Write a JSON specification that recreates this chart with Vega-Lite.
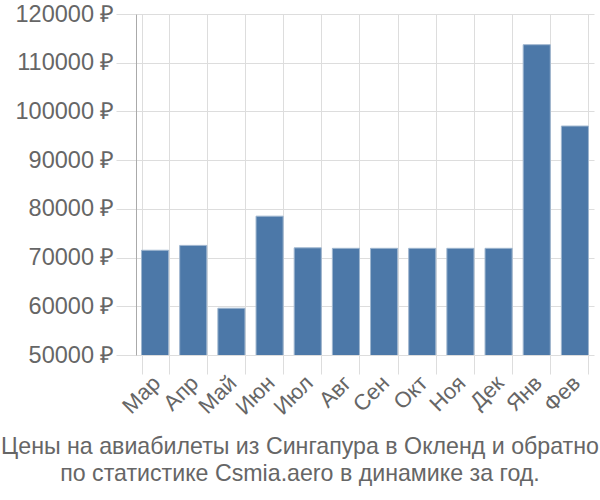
{
  "$schema": "https://vega.github.io/schema/vega-lite/v6.json",
  "width": 458,
  "height": 341,
  "autosize": {"type": "none"},
  "padding": {"left": 136, "top": 14, "right": 6, "bottom": 145},
  "background": "white",
  "data": {
    "values": [
      {"month": "Мар", "price": 71500},
      {"month": "Апр", "price": 72500},
      {"month": "Май", "price": 59600},
      {"month": "Июн", "price": 78500},
      {"month": "Июл", "price": 72000},
      {"month": "Авг", "price": 71900},
      {"month": "Сен", "price": 71900},
      {"month": "Окт", "price": 71900},
      {"month": "Ноя", "price": 71900},
      {"month": "Дек", "price": 71900},
      {"month": "Янв", "price": 113700},
      {"month": "Фев", "price": 97000}
    ]
  },
  "title": {
    "text": ["Цены на авиабилеты из Сингапура в Окленд и обратно", "по статистике Csmia.aero в динамике за год."],
    "orient": "bottom",
    "anchor": "middle",
    "frame": "group",
    "dx": -65,
    "font": "Liberation Sans",
    "fontSize": 23.2,
    "fontWeight": "normal",
    "color": "#666666",
    "lineHeight": 27,
    "offset": 18
  },
  "mark": {"type": "bar", "color": "#4c78a8", "stroke": "#9fb6cf", "strokeWidth": 1, "clip": true},
  "encoding": {
    "x": {
      "field": "month",
      "type": "nominal",
      "sort": null,
      "scale": {"paddingInner": 0.29, "paddingOuter": 0.145},
      "axis": {
        "title": null,
        "tickBand": "extent",
        "grid": true,
        "gridColor": "#dddddd",
        "tickColor": "#dddddd",
        "tickSize": 19,
        "domain": false,
        "labelAngle": -45,
        "labelAlign": "right",
        "labelBaseline": "top",
        "labelFont": "Liberation Sans",
        "labelFontSize": 22,
        "labelColor": "#666666",
        "labelPadding": -2,
        "labelOffset": -6
      }
    },
    "y": {
      "field": "price",
      "type": "quantitative",
      "scale": {"domain": [50000, 120000], "nice": false, "zero": false},
      "axis": {
        "title": null,
        "values": [50000, 60000, 70000, 80000, 90000, 100000, 110000, 120000],
        "labelExpr": "datum.value + ' ₽'",
        "grid": true,
        "gridColor": "#dddddd",
        "tickColor": "#dddddd",
        "tickSize": 20,
        "domainColor": "#aaaaaa",
        "labelFont": "Liberation Sans",
        "labelFontSize": 23.5,
        "labelColor": "#666666",
        "labelPadding": 2
      }
    }
  },
  "config": {"view": {"stroke": null}}
}
